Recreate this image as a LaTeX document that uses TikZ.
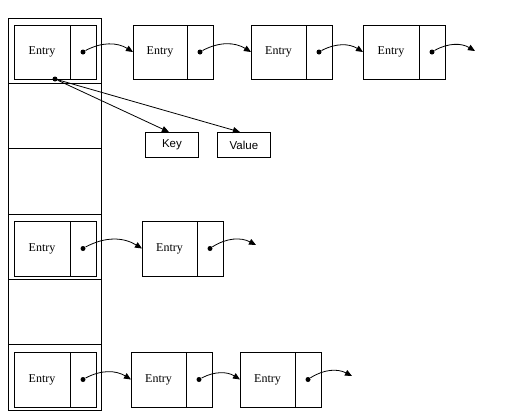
\documentclass[tikz,border=0pt]{standalone}
\usepackage{fontspec}
\setmainfont{Liberation Serif}
\newfontfamily\keyfont{Liberation Sans}
\usetikzlibrary{arrows.meta, positioning}

\begin{document}
\begin{tikzpicture}[
    x=1pt, y=-1pt,
    line width=0.9pt,
    bucket/.style={rectangle, draw, minimum width=93pt, minimum height=65.33pt, inner sep=0pt, outer sep=0pt},
    entry/.style={rectangle, draw, minimum width=56pt, minimum height=54pt, inner sep=0pt, outer sep=0pt, font=\fontsize{12}{14}\selectfont},
    ptr/.style={rectangle, draw, minimum width=26pt, minimum height=54pt, inner sep=0pt, outer sep=0pt},
    field/.style={rectangle, draw, minimum width=53pt, minimum height=25pt, inner sep=0pt, font=\keyfont\fontsize{11.5}{13}\selectfont},
    dot/.style={circle, fill, inner sep=0pt, minimum size=5pt},
    link/.style={-{Triangle[length=7pt, width=6pt]}, line width=0.8pt}
]
\useasboundingbox (0,0) rectangle (514,416);

% Bucket array
\node[bucket, anchor=north west] (b0) at (8,18) {};
\node[bucket, below=0pt of b0] (b1) {};
\node[bucket, below=0pt of b1] (b2) {};
\node[bucket, below=0pt of b2] (b3) {};
\node[bucket, below=0pt of b3] (b4) {};
\node[bucket, below=0pt of b4] (b5) {};

% Row 0
\node[entry, anchor=north west] (e00) at (14,25) {Entry};
\node[ptr, right=0pt of e00] (p00) {};
\node[entry, anchor=north west, minimum width=54pt] (e01) at (133,25) {Entry};
\node[ptr, right=0pt of e01] (p01) {};
\node[entry, anchor=north west, minimum width=55pt] (e02) at (251,25) {Entry};
\node[ptr, right=0pt of e02] (p02) {};
\node[entry, anchor=north west] (e03) at (363,25) {Entry};
\node[ptr, right=0pt of e03] (p03) {};
\coordinate (t0) at (475,51);

% Key and Value
\node[field, anchor=north west] (key) at (145,132) {Key};
\node[field, anchor=north west] (value) at (217,132) {Value};

% Row 3
\node[entry, anchor=north west, minimum height=55pt] (e30) at (14,221) {Entry};
\node[ptr, right=0pt of e30, minimum height=55pt] (p30) {};
\node[entry, anchor=north west, minimum height=55pt, minimum width=55pt] (e31) at (142,221) {Entry};
\node[ptr, right=0pt of e31, minimum height=55pt] (p31) {};
\coordinate (t3) at (256,245);

% Row 5
\node[entry, anchor=north west, minimum height=55pt] (e50) at (14,352) {Entry};
\node[ptr, right=0pt of e50, minimum height=55pt] (p50) {};
\node[entry, anchor=north west, minimum height=55pt, minimum width=55pt] (e51) at (131,352) {Entry};
\node[ptr, right=0pt of e51, minimum height=55pt] (p51) {};
\node[entry, anchor=north west, minimum height=55pt, minimum width=55pt] (e52) at (240,352) {Entry};
\node[ptr, right=0pt of e52, minimum height=55pt] (p52) {};
\coordinate (t5) at (352,376);

% Pointer dots
\node[dot] (d00) at (p00) {};
\node[dot] (d01) at (p01) {};
\node[dot] (d02) at (p02) {};
\node[dot] (d03) at (p03) {};
\node[dot] (d30) at (p30) {};
\node[dot] (d31) at (p31) {};
\node[dot] (d50) at (p50) {};
\node[dot] (d51) at (p51) {};
\node[dot] (d52) at (p52) {};
\node[dot] (kv) at (55,79) {};

% Next links
\draw[link] (d00) to[bend left=30] (e01.west);
\draw[link] (d01) to[bend left=30] (e02.west);
\draw[link] (d02) to[bend left=30] (e03.west);
\draw[link] (d03) to[bend left=30] (t0);
\draw[link] (d30) to[bend left=30] (e31.west);
\draw[link] (d31) to[bend left=30] (t3);
\draw[link] (d50) to[bend left=30] (e51.west);
\draw[link] (d51) to[bend left=30] (e52.west);
\draw[link] (d52) to[bend left=30] (t5);

% Key / Value links
\draw[link] (kv) -- ([xshift=-3pt]key.north);
\draw[link] (kv) -- ([xshift=-4pt]value.north);

\end{tikzpicture}
\end{document}
